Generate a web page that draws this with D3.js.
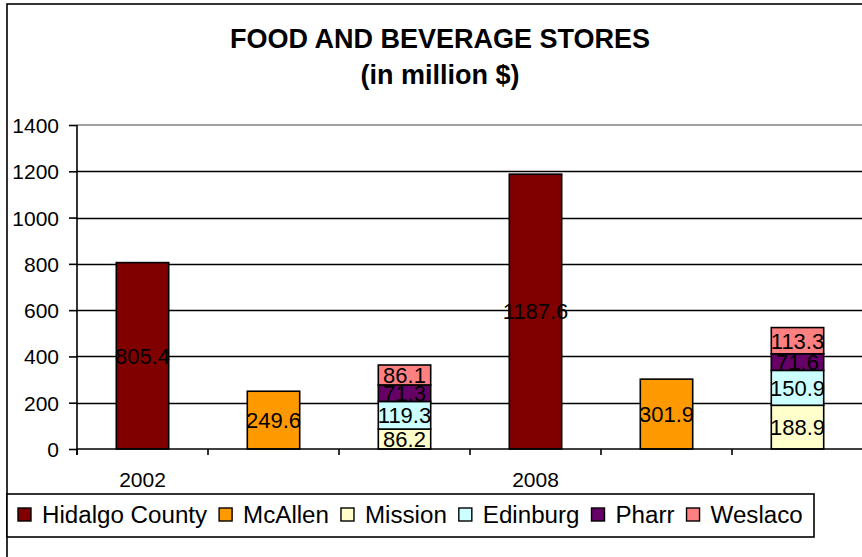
<!DOCTYPE html>
<html>
<head>
<meta charset="utf-8">
<script src="https://cdn.jsdelivr.net/npm/d3@7"></script>
<style>
  body { margin: 0; background: #fff; }
  svg { display: block; }
  text { font-family: "Liberation Sans", Arial, sans-serif; fill: #000; }
</style>
</head>
<body>
<svg id="chart" width="862" height="557"></svg>
<script>
// Food and beverage store sales, in million $
const years = ["2002", "2008"];
const seriesNames = ["Hidalgo County", "McAllen", "Mission", "Edinburg", "Pharr", "Weslaco"];
const seriesColors = ["#800000", "#FF9900", "#FFFFCC", "#CCFFFF", "#660066", "#FF8080"];
const hidalgo = [805.4, 1187.6];
const mcallen = [249.6, 301.9];
const mission = [86.2, 188.9];
const edinburg = [119.3, 150.9];
const pharr = [71.3, 71.6];
const weslaco = [86.1, 113.3];
const yTicks = [0, 200, 400, 600, 800, 1000, 1200, 1400];

const seriesValues = [hidalgo, mcallen, mission, edinburg, pharr, weslaco];
// Each year gets three columns: county, McAllen, and the stacked smaller cities
const columnSeries = [[0], [1], [2, 3, 4, 5]];

const columns = [];
years.forEach((yr, yi) => {
  columnSeries.forEach((list, ci) => {
    let base = 0;
    const segs = list.map(si => {
      const v = seriesValues[si][yi];
      const s = { series: si, value: v, y0: base, y1: base + v };
      base += v;
      return s;
    });
    columns.push({ key: yi * columnSeries.length + ci, year: yr, first: ci === 0, segs });
  });
});

const svg = d3.select("#chart");

const x = d3.scaleBand()
  .domain(columns.map(c => c.key))
  .range([77, 863])
  .paddingInner(0.6)
  .paddingOuter(0.3);
const y = d3.scaleLinear().domain([0, 1400]).range([449, 125]);

// outer chart frame
svg.append("rect")
  .attr("x", 7).attr("y", 4).attr("width", 900).attr("height", 600)
  .attr("fill", "none").attr("stroke", "#000").attr("stroke-width", 1.6);

// title
const title = svg.append("g").attr("font-weight", "bold").attr("font-size", 27).attr("text-anchor", "middle");
title.append("text").attr("x", 440).attr("y", 48).text("FOOD AND BEVERAGE STORES");
title.append("text").attr("x", 440).attr("y", 84).text("(in million $)");

// horizontal gridlines
svg.append("g").selectAll("line")
  .data(yTicks.filter(t => t > 0 && t < 1400))
  .join("line")
  .attr("x1", 77).attr("x2", 863)
  .attr("y1", d => Math.round(y(d)) + 0.5).attr("y2", d => Math.round(y(d)) + 0.5)
  .attr("stroke", "#000").attr("stroke-width", 1.3);

// plot area top border
svg.append("line")
  .attr("x1", 77).attr("x2", 863).attr("y1", y(1400)).attr("y2", y(1400))
  .attr("stroke", "#808080").attr("stroke-width", 1.6);

// y axis
const yAxis = d3.axisLeft(y).tickValues(yTicks).tickFormat(d3.format("d")).tickSize(8).tickPadding(10);
const yg = svg.append("g").attr("transform", "translate(77,0)").call(yAxis);
yg.select(".domain").attr("stroke-width", 1.6).attr("d", `M0,${y(1400)}V${y(0) + 6}`);
yg.selectAll(".tick line").attr("stroke-width", 1.6);
yg.selectAll(".tick text")
  .attr("font-size", 21)
  .attr("font-family", "Liberation Sans, Arial, sans-serif")
  .attr("x", null).attr("dy", null)
  .attr("transform", "translate(-18,0) scale(1.0,1)")
  .attr("dominant-baseline", "central")
  .attr("fill", "#000");

// bars
const colG = svg.append("g").selectAll("g").data(columns).join("g");
colG.selectAll("rect")
  .data(c => c.segs.map(s => ({ ...s, key: c.key })))
  .join("rect")
  .attr("x", d => x(d.key))
  .attr("width", x.bandwidth())
  .attr("y", d => y(d.y1))
  .attr("height", d => y(d.y0) - y(d.y1))
  .attr("fill", d => seriesColors[d.series])
  .attr("stroke", "#000").attr("stroke-width", 1.6);

// x axis line and category ticks
svg.append("line")
  .attr("x1", 77).attr("x2", 863).attr("y1", y(0)).attr("y2", y(0))
  .attr("stroke", "#000").attr("stroke-width", 1.6);
const step = x.step();
svg.append("g").selectAll("line")
  .data(d3.range(columns.length + 1))
  .join("line")
  .attr("x1", i => 77 + i * step).attr("x2", i => 77 + i * step)
  .attr("y1", y(0)).attr("y2", y(0) + 6)
  .attr("stroke", "#000").attr("stroke-width", 1.6);

// year labels under the first column of each year
svg.append("g").selectAll("text")
  .data(columns.filter(c => c.first))
  .join("text")
  .attr("text-anchor", "middle").attr("font-size", 21)
  .attr("x", c => x(c.key) + x.bandwidth() / 2)
  .attr("y", 487)
  .text(c => c.year);

// value labels centred in each segment
colG.selectAll("text.val")
  .data(c => c.segs.map(s => ({ ...s, key: c.key })))
  .join("text")
  .attr("class", "val")
  .attr("text-anchor", "middle").attr("font-size", 22)
  .attr("x", d => x(d.key) + x.bandwidth() / 2)
  .attr("y", d => (y(d.y0) + y(d.y1)) / 2)
  .attr("dy", "0.36em")
  .text(d => d.value.toFixed(1));

// legend
const leg = svg.append("g");
leg.append("rect")
  .attr("x", 7).attr("y", 494).attr("width", 807).attr("height", 43)
  .attr("fill", "#fff").attr("stroke", "#000").attr("stroke-width", 1.6);
let lx = 18;
const legSx = 1.05;
seriesNames.forEach((name, i) => {
  leg.append("rect")
    .attr("x", lx).attr("y", 508).attr("width", 13).attr("height", 13)
    .attr("fill", seriesColors[i]).attr("stroke", "#000").attr("stroke-width", 1.4);
  const t = leg.append("text")
    .attr("font-size", 23)
    .attr("transform", `translate(${lx + 24},523) scale(${legSx},1)`)
    .text(name);
  const w = t.node().getComputedTextLength() * legSx;
  lx = lx + 24 + w + 12;
});
</script>
</body>
</html>
